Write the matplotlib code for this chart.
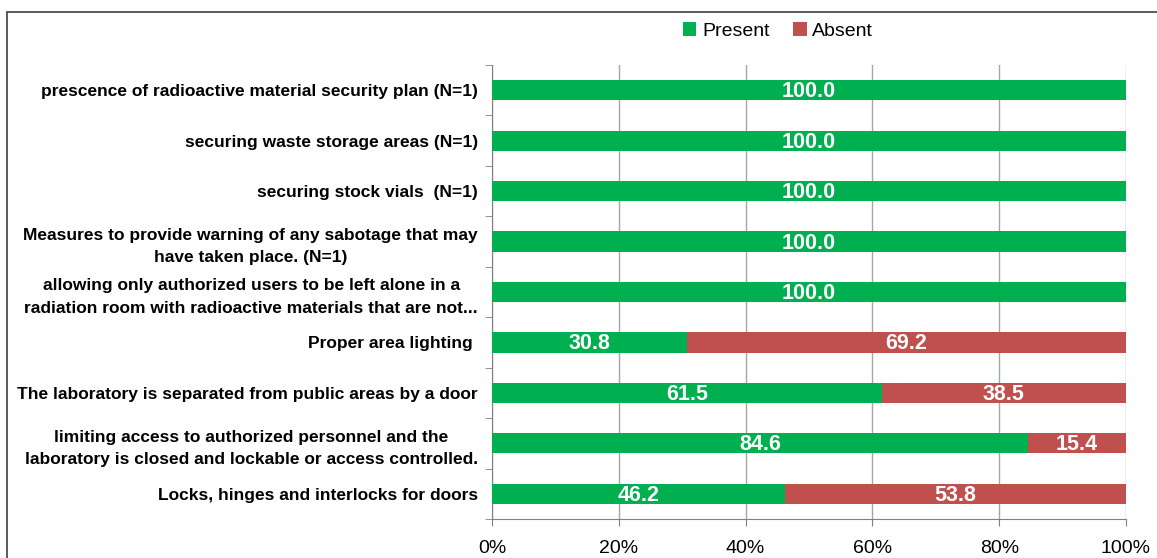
import numpy as np
import matplotlib.pyplot as plt
from matplotlib.patches import Rectangle

plt.rcParams['font.family'] = ['Liberation Sans', 'DejaVu Sans']

categories = [
    "prescence of radioactive material security plan (N=1)",
    "securing waste storage areas (N=1)",
    "securing stock vials  (N=1)",
    "Measures to provide warning of any sabotage that may\nhave taken place. (N=1)",
    "allowing only authorized users to be left alone in a\nradiation room with radioactive materials that are not...",
    "Proper area lighting ",
    "The laboratory is separated from public areas by a door",
    "limiting access to authorized personnel and the\nlaboratory is closed and lockable or access controlled.",
    "Locks, hinges and interlocks for doors",
]
present = [100.0, 100.0, 100.0, 100.0, 100.0, 30.8, 61.5, 84.6, 46.2]
absent = [0.0, 0.0, 0.0, 0.0, 0.0, 69.2, 38.5, 15.4, 53.8]

green = '#00B050'
red = '#C0504D'

fig = plt.figure(figsize=(11.57, 5.58), dpi=100)
ax = fig.add_axes([492 / 1157, 1 - 519 / 558, (1126 - 492) / 1157, (519 - 65) / 558])

# outer chart border (runs off the right and bottom edge)
fig.patches.append(Rectangle((7 / 1157, -0.05), 1.1, 1 - 12 / 558 + 0.05,
                             transform=fig.transFigure, fill=False,
                             edgecolor='#404040', linewidth=1.2))

y = np.arange(len(categories))
h = 0.4
b1 = ax.barh(y, present, height=h, color=green, label='Present', zorder=3)
b2 = ax.barh(y, absent, left=present, height=h, color=red, label='Absent', zorder=3)

for i in range(len(categories)):
    if present[i] > 0:
        ax.text(present[i] / 2, y[i] + 0.03, f'{present[i]:.1f}', ha='center', va='center',
                color='white', fontsize=15.5, fontweight='bold', zorder=4)
    if absent[i] > 0:
        ax.text(present[i] + absent[i] / 2, y[i] + 0.03, f'{absent[i]:.1f}', ha='center', va='center',
                color='white', fontsize=15.5, fontweight='bold', zorder=4)

ax.set_xlim(0, 100)
ax.set_ylim(len(categories) - 0.5, -0.5)
ax.set_xticks([0, 20, 40, 60, 80, 100])
ax.set_xticklabels(['0%', '20%', '40%', '60%', '80%', '100%'], fontsize=14)
ax.set_yticks(y)
ax.set_yticklabels(categories, fontsize=12.5, fontweight='bold')
for lab in ax.get_yticklabels():
    lab.set_multialignment('center')
    lab.set_linespacing(1.6)
ax.set_yticks(np.arange(-0.5, len(categories), 1), minor=True)
ax.tick_params(axis='y', which='major', length=0, pad=10)
ax.tick_params(axis='y', which='minor', length=5, color='#808080')
ax.tick_params(axis='x', length=5, color='#808080', pad=10)

ax.grid(axis='x', color='#A6A6A6', linewidth=1, zorder=0)
for s in ['top', 'right']:
    ax.spines[s].set_visible(False)
ax.spines['left'].set_color('#808080')
ax.spines['bottom'].set_color('#808080')

fig.legend(handles=[b1, b2], labels=['Present', 'Absent'], loc='center',
           bbox_to_anchor=(778 / 1157, 1 - 31 / 558), ncol=2, frameon=False,
           fontsize=14, handlelength=0.7, handleheight=0.7, handletextpad=0.3,
           columnspacing=1.2)

fig.savefig('out.png', dpi=100)
